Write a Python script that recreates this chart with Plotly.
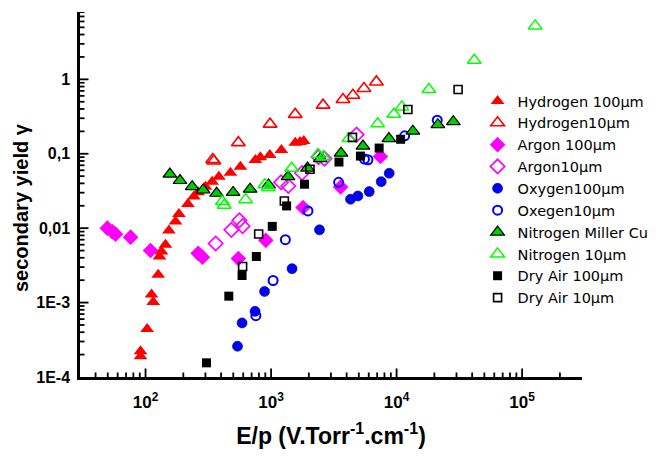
import math
import plotly.graph_objects as go

# Hydrogen 100um (filled red triangles)
h100_x = [91.2, 91.2, 103, 111.6, 115.2, 126.2, 129.2, 134, 144.2, 153.5, 173.3, 184.5, 217.5, 242.7, 262.5,
          300, 339.5, 383.8, 474.5, 570, 750, 822, 977, 1208, 1560, 1703, 1820]
h100_y = [1.90e-4, 2.22e-4, 4.43e-4, 1.28e-3, 1.02e-3, 2.37e-3, 4.16e-3, 4.85e-3, 5.98e-3, 9.29e-3, 0.01226,
          0.01556, 0.0212, 0.02655, 0.0304, 0.0361, 0.0422, 0.0492, 0.0556, 0.0669, 0.0823, 0.0895, 0.0961,
          0.112, 0.1405, 0.144, 0.148]
# Hydrogen 10um (open red triangles)
h10_x = [343, 350, 549, 982, 1557, 2595, 3741, 4490, 5495, 6905]
h10_y = [0.0835, 0.0798, 0.141, 0.250, 0.338, 0.450, 0.536, 0.612, 0.753, 0.923]
# Argon 100um (filled magenta diamonds)
ar100_x = [49.6, 54.3, 57.7, 76.0, 109.6, 262.5, 284, 549, 908, 1797, 3581, 7430]
ar100_y = [0.0100, 0.0090, 0.00831, 0.00757, 0.00501, 0.00459, 0.00408, 0.00390, 0.00686, 0.0190, 0.0358, 0.0918]
# Argon 10um (open magenta diamonds)
ar10_x = [361.8, 483, 559.5, 593, 1201, 1371, 1765, 2391, 2666, 4798]
ar10_y = [0.00622, 0.00949, 0.01273, 0.01064, 0.0414, 0.0369, 0.0551, 0.0903, 0.0860, 0.181]
# Oxygen 100um (filled blue circles)
ox100_x = [540.3, 587.5, 746, 887.6, 1469, 2432, 4297, 4920, 6053, 7543, 8730]
ox100_y = [2.59e-4, 5.33e-4, 7.62e-4, 1.41e-3, 2.86e-3, 9.49e-3, 0.0245, 0.0271, 0.0310, 0.0422, 0.0546]
# Oxegen 10um (open blue circles)
ox10_x = [756.6, 1038, 1300, 1968, 3450, 5546, 5912, 11600, 21080]
ox10_y = [6.67e-4, 1.98e-3, 7.01e-3, 0.01707, 0.0413, 0.0849, 0.0831, 0.174, 0.283]
# Nitrogen Miller Cu (filled green triangles)
n2m_x = [156.3, 188.2, 235.3, 287.7, 368.5, 498.5, 680.6, 955, 1365, 1951, 2466, 3606, 5395, 8685, 13480,
         21310, 28300]
n2m_y = [0.0534, 0.0437, 0.0361, 0.0326, 0.02945, 0.0302, 0.0334, 0.0381, 0.0492, 0.0643, 0.0862, 0.102,
         0.1268, 0.160, 0.2015, 0.246, 0.270]
# Nitrogen 10um (open green triangles)
n10_x = [410, 422.9, 626.6, 891, 952, 1461, 2366, 2617, 4174, 7072, 9517, 11020, 18070, 41580, 127000]
n10_y = [0.02287, 0.02034, 0.02417, 0.0384, 0.0352, 0.0637, 0.0976, 0.0912, 0.1608, 0.2524, 0.3404, 0.4266,
         0.730, 1.803, 5.23]
# Dry Air 100um (filled black squares)
da100_x = [305.8, 460.8, 587.5, 763.6, 1022, 1330, 1847, 3475, 5152, 7261, 10770]
da100_y = [1.55e-4, 1.22e-3, 2.31e-3, 4.16e-3, 0.01057, 0.0199, 0.0390, 0.0774, 0.0931, 0.1192, 0.1565]
# Dry Air 10um (open black squares)
da10_x = [593.4, 796.8, 1276, 2042, 4451, 12300, 30900]
da10_y = [3.06e-3, 8.34e-3, 0.0232, 0.0620, 0.166, 0.394, 0.730]

y_major = [1e-4, 1e-3, 1e-2, 1e-1, 1]
y_major_text = ["1E-4", "1E-3", "0,01", "0,1", "1"]
x_major = [1e2, 1e3, 1e4, 1e5]
x_major_text = ["10<sup>2</sup>", "10<sup>3</sup>", "10<sup>4</sup>", "10<sup>5</sup>"]

FONT = "Liberation Sans, Arial, sans-serif"
LEGFONT = "DejaVu Sans, Liberation Sans, sans-serif"

series = [
    ("Hydrogen 100μm", h100_x, h100_y, "triangle-up", "#ff0000", "#ff0000", 12, 0),
    ("Hydrogen10μm", h10_x, h10_y, "triangle-up-open", "#ff0000", "#ff0000", 12, 1.6),
    ("Argon 100μm", ar100_x, ar100_y, "diamond", "#ff00ff", "#ff00ff", 12, 0),
    ("Argon10μm", ar10_x, ar10_y, "diamond-open", "#ff00ff", "#ff00ff", 11, 1.7),
    ("Oxygen100μm", ox100_x, ox100_y, "circle", "#0000ff", "#000060", 10, 0.6),
    ("Oxegen10μm", ox10_x, ox10_y, "circle-open", "#0000ff", "#0000ff", 9, 2),
    ("Nitrogen Miller Cu", n2m_x, n2m_y, "triangle-up", "#00cc00", "#000000", 12, 1.2),
    ("Nitrogen 10μm", n10_x, n10_y, "triangle-up-open", "#00ff00", "#00ff00", 12, 1.5),
    ("Dry Air 100μm", da100_x, da100_y, "square", "#000000", "#000000", 9, 0),
    ("Dry Air 10μm", da10_x, da10_y, "square-open", "#000000", "#000000", 8, 1.6),
]

fig = go.Figure()
for name, xs, ys, sym, col, lcol, size, lw in series:
    fig.add_trace(go.Scatter(
        x=xs, y=ys, mode="markers", name=name,
        marker=dict(symbol=sym, color=col, size=size, line=dict(color=lcol, width=lw)),
    ))

XR = [1.478, 5.477]
YR = [-4, 0.905]
x_lo, y_lo = 10 ** XR[0], 10 ** YR[0]


def in_range(v, r):
    return r[0] + 0.002 < math.log10(v) <= r[1]


# inside tick marks: line symbols centred on the axis, outer half clipped by the plot area
for is_major, L in ((True, 8.5), (False, 4.5)):
    ms = [1] if is_major else list(range(2, 10))
    xt = [m * 10 ** e for e in range(1, 6) for m in ms if in_range(m * 10 ** e, XR)]
    yt = [m * 10 ** e for e in range(-4, 1) for m in ms if in_range(m * 10 ** e, YR)]
    size = L / 0.7
    fig.add_trace(go.Scatter(x=xt, y=[y_lo] * len(xt), mode="markers", showlegend=False, hoverinfo="skip",
                             cliponaxis=True,
                             marker=dict(symbol="line-ns-open", size=size, color="black",
                                         line=dict(color="black", width=1.8))))
    fig.add_trace(go.Scatter(x=[x_lo] * len(yt), y=yt, mode="markers", showlegend=False, hoverinfo="skip",
                             cliponaxis=True,
                             marker=dict(symbol="line-ew-open", size=size, color="black",
                                         line=dict(color="black", width=1.8))))

fig.update_layout(
    width=669, height=459,
    margin=dict(l=80, r=87, t=12, b=82),
    paper_bgcolor="white", plot_bgcolor="white",
    font=dict(family=FONT, color="black"),
    showlegend=True,
    legend=dict(x=0.792, y=0.80, xanchor="left", yanchor="top",
                font=dict(family=LEGFONT, size=14.5, color="black"),
                bgcolor="rgba(0,0,0,0)", tracegroupgap=0),
    annotations=[dict(text="secondary yield γ", textangle=-90, xref="paper", yref="paper",
                      x=-0.1175, y=0.463, xanchor="center", yanchor="middle", showarrow=False,
                      font=dict(family=FONT, size=20, color="black", weight="bold"))],
    xaxis=dict(
        type="log", range=XR,
        showline=True, linecolor="black", linewidth=2.5, mirror=False,
        showgrid=False, zeroline=False, ticks="",
        tickmode="array", tickvals=x_major, ticktext=x_major_text,
        tickfont=dict(family=FONT, size=17, color="black", weight="bold"),
        ticklabelstandoff=8,
        title=dict(text="E/p (V.Torr<sup>-1</sup>.cm<sup>-1</sup>)",
                   font=dict(family=FONT, size=23, color="black", weight="bold"), standoff=17),
    ),
    yaxis=dict(
        type="log", range=YR,
        showline=True, linecolor="black", linewidth=2.5, mirror=False,
        showgrid=False, zeroline=False, ticks="",
        tickmode="array", tickvals=y_major, ticktext=y_major_text,
        tickfont=dict(family=FONT, size=16, color="black", weight="bold"),
        ticklabelstandoff=4,
    ),
)

fig.write_html("out.html")
